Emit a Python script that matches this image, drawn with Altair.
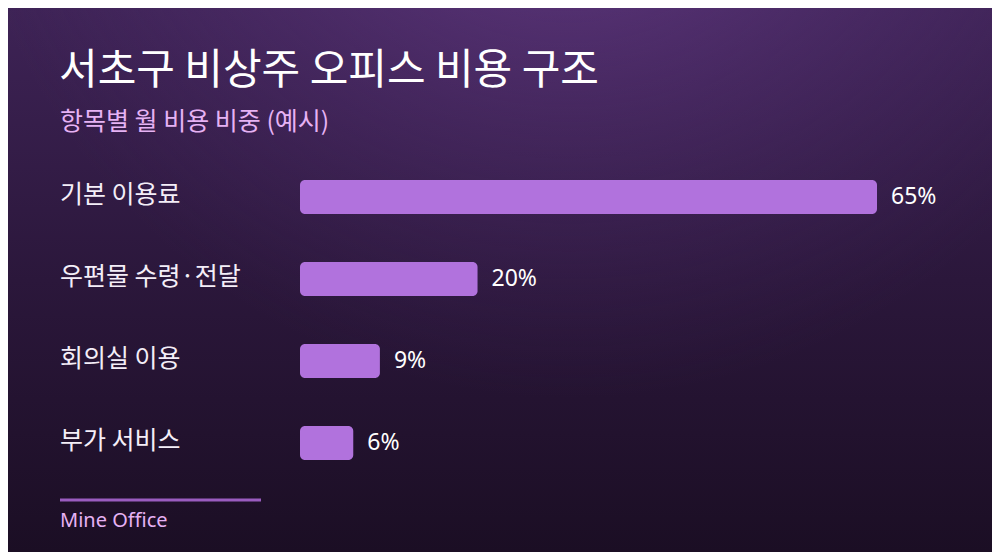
import altair as alt
import pandas as pd

categories = ["기본 이용료", "우편물 수령·전달", "회의실 이용", "부가 서비스"]
values = [65, 20, 9, 6]
value_labels = ["65%", "20%", "9%", "6%"]

title_text = "서초구 비상주 오피스 비용 구조"
subtitle_text = "항목별 월 비용 비중 (예시)"
footer_text = "Mine Office"

FONT = "Noto Sans CJK KR"
LATIN = "Noto Sans"
W, H = 984, 544

df = pd.DataFrame({"cat": categories, "val": values, "lab": value_labels})
one = pd.DataFrame({"a": [0]})

bg_linear = alt.Chart(one).mark_rect(
    color={
        "gradient": "linear",
        "x1": 0, "y1": 0, "x2": 0, "y2": 1,
        "stops": [
            {"offset": 0, "color": "#3e2356"},
            {"offset": 0.5, "color": "#2b173b"},
            {"offset": 1, "color": "#1b0e24"},
        ],
    }
).encode(x=alt.value(0), x2=alt.value(W), y=alt.value(0), y2=alt.value(H))

bg_radial = alt.Chart(one).mark_rect(
    color={
        "gradient": "radial",
        "x1": 0.57, "y1": 0.0, "r1": 0,
        "x2": 0.57, "y2": 0.0, "r2": 0.62,
        "stops": [
            {"offset": 0, "color": "rgba(116,68,152,0.8)"},
            {"offset": 0.55, "color": "rgba(95,55,128,0.35)"},
            {"offset": 1, "color": "rgba(80,45,110,0)"},
        ],
    }
).encode(x=alt.value(0), x2=alt.value(W), y=alt.value(0), y2=alt.value(H))

xscale = alt.Scale(domain=[0, 65], range=[292, 869])
yscale = alt.Scale(domain=categories, range=[148, 476], paddingInner=0, paddingOuter=0)

base = alt.Chart(df)

bars = base.mark_bar(size=34, color="#b172dd", cornerRadius=5).encode(
    x=alt.X("val:Q", scale=xscale, axis=None),
    x2=alt.datum(0),
    y=alt.Y("cat:N", scale=yscale, axis=None, sort=categories),
)

val_text = base.mark_text(
    align="left", baseline="middle", dx=14, fontSize=23, font=LATIN, color="#ffffff"
).encode(
    x=alt.X("val:Q", scale=xscale, axis=None),
    y=alt.Y("cat:N", scale=yscale, axis=None, sort=categories),
    text="lab:N",
)

cat_text = base.mark_text(
    align="left", baseline="middle", fontSize=25, font=FONT, color="#f4eef8", dy=-2
).encode(
    x=alt.value(52),
    y=alt.Y("cat:N", scale=yscale, axis=None, sort=categories),
    text="cat:N",
)

title = alt.Chart(one).mark_text(
    align="left", baseline="middle", fontSize=42, font=FONT, color="#ffffff"
).encode(x=alt.value(51), y=alt.value(63), text=alt.value(title_text))

subtitle = alt.Chart(one).mark_text(
    align="left", baseline="middle", fontSize=25, font=FONT, color="#e6b2f4"
).encode(x=alt.value(52), y=alt.value(114), text=alt.value(subtitle_text))

footer_line = alt.Chart(one).mark_rule(color="#9a5cc0", strokeWidth=3).encode(
    x=alt.value(52), x2=alt.value(253), y=alt.value(492)
)

footer = alt.Chart(one).mark_text(
    align="left", baseline="middle", fontSize=20, font=LATIN, color="#e6b2f4"
).encode(x=alt.value(52), y=alt.value(513), text=alt.value(footer_text))

chart = alt.layer(
    bg_linear, bg_radial, bars, val_text, cat_text, title, subtitle, footer_line, footer
).properties(
    width=W, height=H, padding=0, autosize=alt.AutoSizeParams(type="none"),
    background="#1b0e24",
).configure_view(strokeWidth=0)

chart.save("out.html", embed_options={"renderer": "svg", "actions": False})
